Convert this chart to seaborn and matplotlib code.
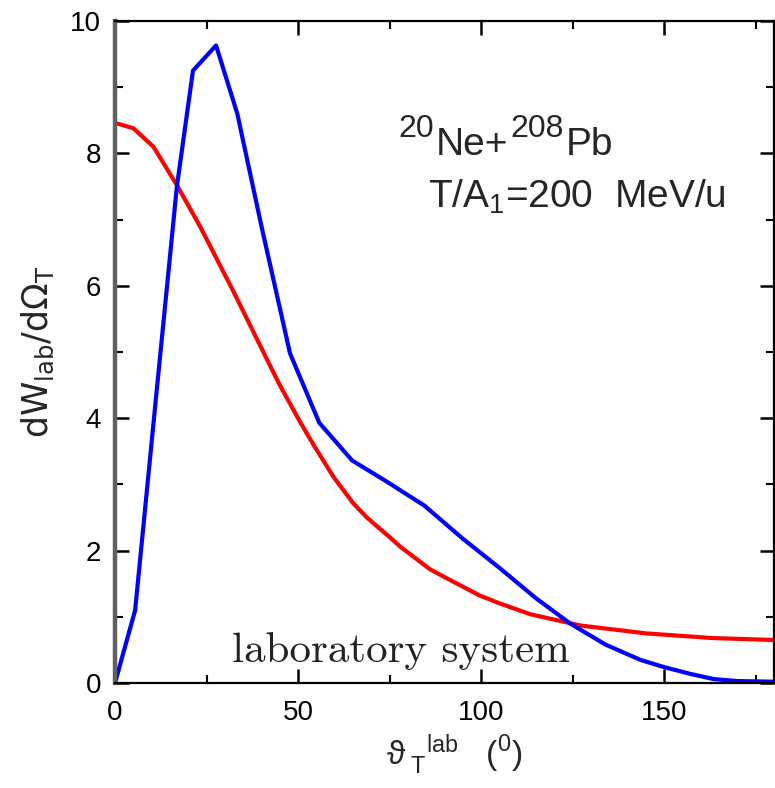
import matplotlib
matplotlib.use("Agg")
import matplotlib.pyplot as plt
import seaborn as sns
import pandas as pd
from matplotlib.ticker import MultipleLocator

# Angular distribution of the target-like fragment, laboratory frame
theta_blue = [0, 5.5, 11, 16.9, 21.3, 27.6, 33.4, 40, 47.8, 55.8, 64.8, 74,
              84.5, 95, 105, 115, 124.3, 134, 143.5, 150, 157, 163.5, 170, 180]
dw_blue = [0, 1.1, 4.2, 7.5, 9.25, 9.63, 8.6, 6.9, 4.98, 3.93, 3.36, 3.05,
           2.68, 2.18, 1.74, 1.28, 0.9, 0.58, 0.35, 0.24, 0.14, 0.06, 0.03, 0.02]

theta_red = [0, 5, 10.5, 16.9, 23.2, 32.3, 41.4, 45, 50.5, 54.2, 59.6, 65,
             68.8, 75.1, 77.9, 86, 90.7, 99.7, 105.2, 113.4, 127, 145, 163, 180]
dw_red = [8.46, 8.38, 8.1, 7.52, 6.9, 5.92, 4.9, 4.5, 3.95, 3.6, 3.12, 2.72,
          2.5, 2.2, 2.06, 1.72, 1.58, 1.32, 1.2, 1.04, 0.87, 0.75, 0.68, 0.65]

x_ticks = [0, 50, 100, 150]
y_ticks = [0, 2, 4, 6, 8, 10]

sns.set_theme(style="ticks")
plt.rcParams["font.family"] = ["Liberation Sans", "DejaVu Sans"]
plt.rcParams["mathtext.fontset"] = "custom"
plt.rcParams["mathtext.rm"] = "Liberation Sans"
plt.rcParams["mathtext.it"] = "Liberation Sans"
plt.rcParams["mathtext.bf"] = "Liberation Sans:bold"

fig = plt.figure(figsize=(7.75, 7.88), dpi=100)
ax = fig.add_axes([0.1484, 0.1332, 0.8503, 0.8402])

df_blue = pd.DataFrame({"theta": theta_blue, "dw": dw_blue})
df_red = pd.DataFrame({"theta": theta_red, "dw": dw_red})
sns.lineplot(data=df_red, x="theta", y="dw", ax=ax, color="#ff0000",
             linewidth=3, sort=False, estimator=None)
sns.lineplot(data=df_blue, x="theta", y="dw", ax=ax, color="#0000ff",
             linewidth=3, sort=False, estimator=None)

ax.set_xlim(0, 180)
ax.set_ylim(0, 10)
ax.set_xticks(x_ticks)
ax.set_yticks(y_ticks)
ax.xaxis.set_minor_locator(MultipleLocator(25))
ax.yaxis.set_minor_locator(MultipleLocator(1))
ax.tick_params(which="both", direction="in", top=True, right=True,
               labelsize=20, colors="black")
ax.tick_params(axis="x", which="major", length=10, width=1.8, pad=12)
ax.tick_params(axis="y", which="major", length=10, width=1.8, pad=10)
ax.tick_params(which="minor", length=6, width=1.5)

for side in ["top", "bottom", "right"]:
    ax.spines[side].set_color("black")
    ax.spines[side].set_linewidth(1.6)
ax.spines["left"].set_color("#606060")
ax.spines["left"].set_linewidth(3.2)

ax.set_xlabel(r"$\vartheta_{\ \rm T}^{\ \ \ \rm lab}$   ($^0$)", fontsize=24,
              labelpad=2)
ax.xaxis.set_label_coords(0.515, -0.075)
ax.set_ylabel(r"dW$_{\rm lab}$/d$\Omega_{\rm T}$", fontsize=25, labelpad=10,
              family="DejaVu Sans")
ax.yaxis.label.set_math_fontfamily("dejavusans")

# Reaction label: mass numbers drawn as raised pieces before each symbol
pieces = [("20", 23, 8.25), ("Ne+", 28, 7.98), ("208", 23, 8.25),
          ("Pb", 28, 7.98)]
prev = ax.text(77.3, pieces[0][2], pieces[0][0], fontsize=pieces[0][1],
               ha="left", va="baseline")
for txt, size, yb in pieces[1:]:
    prev = ax.annotate(txt, xy=(1, yb), xycoords=(prev, "data"),
                       xytext=(1.5, 0), textcoords="offset points",
                       fontsize=size, ha="left", va="baseline")

ax.text(85.5, 7.18, r"T/A$_1$=200  MeV/u", fontsize=28, ha="left",
        va="baseline")
ax.text(78, 0.32, "laboratory system", fontsize=31, family="cmr10",
        ha="center", va="baseline", color="#222222")

fig.savefig("out.png", dpi=100, facecolor="white")
